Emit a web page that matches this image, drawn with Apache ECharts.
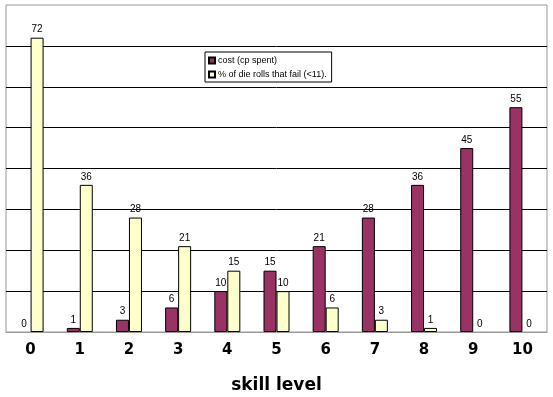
<!DOCTYPE html>
<html>
<head>
<meta charset="utf-8">
<script src="https://cdn.jsdelivr.net/npm/echarts@6/dist/echarts.min.js"></script>
<style>
  html, body { margin: 0; padding: 0; background: #fff; }
  #chart { width: 553px; height: 397px; }
</style>
</head>
<body>
<div id="chart"></div>
<script>
// skill levels on the x axis
var skillLevels = ['0', '1', '2', '3', '4', '5', '6', '7', '8', '9', '10']
// cost in cp spent
var costSpent = [0, 1, 3, 6, 10, 15, 21, 28, 36, 45, 55]
// % of die rolls that fail (<11)
var failPercent = [72, 36, 28, 21, 15, 10, 6, 3, 1, 0, 0]

var chart = echarts.init(document.getElementById('chart'))

var labelStyle = {
  show: true,
  position: 'top',
  distance: 3,
  color: '#000',
  fontSize: 10,
  fontFamily: 'Liberation Sans, Arial, sans-serif'
}

// zero bars get no outline, like the original
function barData(values) {
  return values.map(function(v) {
    return v === 0 ? { value: v, itemStyle: { borderWidth: 0 } } : v
  })
}

chart.setOption({
  animation: false,
  backgroundColor: '#fff',
  grid: {
    left: 6,
    right: 6,
    top: 5,
    bottom: 65,
    outerBoundsMode: 'none',
    show: true,
    borderColor: '#999',
    borderWidth: 1,
    backgroundColor: '#fff'
  },
  legend: {
    orient: 'vertical',
    left: 205,
    top: 52,
    backgroundColor: '#fff',
    borderColor: '#000',
    borderWidth: 1,
    borderRadius: 0,
    padding: [4, 5, 3, 3],
    itemWidth: 6,
    itemHeight: 6,
    itemGap: 5,
    icon: 'rect',
    textStyle: {
      color: '#000',
      fontSize: 9,
      fontFamily: 'Liberation Sans, Arial, sans-serif',
      padding: [0, 0, 0, -2]
    },
    data: ['cost (cp spent)', '% of die rolls that fail (<11).']
  },
  xAxis: {
    type: 'category',
    data: skillLevels,
    axisLine: { lineStyle: { color: '#999' } },
    axisTick: { show: false },
    axisLabel: {
      color: '#000',
      fontSize: 15,
      fontWeight: 'bold',
      fontFamily: 'DejaVu Sans, sans-serif',
      margin: 11
    },
    name: 'skill level',
    nameLocation: 'middle',
    nameGap: 45,
    nameTextStyle: {
      color: '#000',
      fontSize: 17,
      fontWeight: 'bold',
      fontFamily: 'DejaVu Sans, sans-serif'
    }
  },
  yAxis: {
    type: 'value',
    min: 0,
    max: 80,
    interval: 10,
    axisLabel: { show: false },
    axisLine: { show: false },
    axisTick: { show: false },
    splitLine: {
      show: true,
      showMinLine: false,
      showMaxLine: false,
      lineStyle: { color: '#000', width: 1 }
    }
  },
  series: [
    {
      name: 'cost (cp spent)',
      type: 'bar',
      data: barData(costSpent),
      barWidth: 13,
      barGap: '0%',
      itemStyle: { color: '#993366', borderColor: '#000', borderWidth: 1 },
      label: labelStyle
    },
    {
      name: '% of die rolls that fail (<11).',
      type: 'bar',
      data: barData(failPercent),
      barWidth: 13,
      barGap: '0%',
      itemStyle: { color: '#FFFFCC', borderColor: '#000', borderWidth: 1 },
      label: labelStyle
    }
  ]
})
</script>
</body>
</html>
